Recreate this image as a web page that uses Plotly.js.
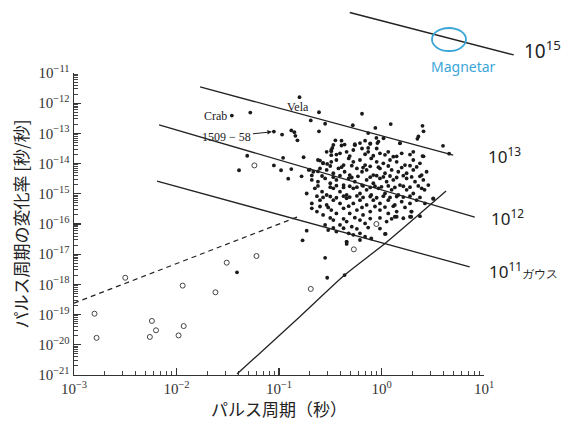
<!DOCTYPE html>
<html><head><meta charset="utf-8">
<script src="https://cdn.plot.ly/plotly-3.0.1.min.js"></script>
<style>html,body{margin:0;padding:0;background:#fff}#chart{width:568px;height:421px}</style>
</head><body><div id="chart"></div>
<script>
// ---- data (log10 values) ----
// ordinary pulsars: [log10 P (s), log10 dP/dt]
const normalPulsars = [
[-1.46,-12.41],[-1.28,-12.31],[-0.80,-11.80],[-1.05,-12.94],[-0.61,-12.30],[-0.69,-12.57],[-0.55,-12.68],[-0.61,-12.93],
[-0.97,-13.04],[-0.88,-12.90],[-0.85,-12.96],[-0.84,-13.08],[-0.82,-13.23],[-1.31,-13.74],[-1.39,-14.22],[-0.96,-13.81],
[-0.76,-13.79],[-1.05,-14.06],[-0.98,-14.22],[-0.88,-14.18],[-0.91,-14.50],[-0.78,-14.42],[-0.70,-14.20],[-0.68,-14.39],
[-0.62,-14.26],[-0.45,-13.23],[-0.48,-13.48],[-0.49,-13.59],[-0.60,-13.90],[-0.57,-13.98],[-0.53,-14.01],
[-0.19,-12.35],[-0.28,-12.73],[-0.06,-12.82],[0.09,-12.69],[0.40,-12.75],[0.41,-12.93],[0.36,-13.10],[0.35,-13.18],
[-0.13,-12.99],[-0.05,-13.15],[-0.16,-13.24],[-0.21,-13.32],[-0.11,-13.35],[-0.04,-13.32],[0.18,-13.32],[0.60,-13.41],
[0.66,-13.67],[0.41,-13.76],[-0.39,-13.24],[-0.36,-13.37],[-0.26,-13.39],[-0.13,-13.48],
[-0.47,-13.38],[-0.39,-13.40],[-0.26,-13.36],[-0.11,-13.33],[-0.03,-13.27],[0.02,-13.16],[0.18,-13.33],
[-0.535,-13.61],[-0.49,-13.55],[-0.405,-13.66],[-0.34,-13.61],[-0.275,-13.55],[-0.19,-13.50],[-0.13,-13.61],[-0.047,-13.50],
[-0.015,-13.66],[0.066,-13.61],[0.115,-13.77],[0.197,-13.66],[0.31,-13.61],[0.40,-13.75],[-0.49,-13.72],
[-0.62,-13.88],[-0.57,-13.99],[-0.49,-13.94],[-0.44,-13.88],[-0.37,-14.05],[-0.32,-13.83],[-0.275,-13.94],[-0.21,-13.88],
[-0.16,-14.05],[-0.10,-13.83],[-0.047,-13.94],[0.018,-13.99],[0.083,-13.88],[0.148,-13.94],[0.229,-14.05],[0.31,-13.88],[0.375,-13.99],
[-0.71,-14.21],[-0.665,-14.27],[-0.60,-14.16],[-0.535,-14.21],[-0.47,-14.32],[-0.42,-14.16],[-0.36,-14.27],[-0.31,-14.38],
[-0.24,-14.16],[-0.19,-14.27],[-0.145,-14.21],[-0.08,-14.38],[-0.015,-14.16],[0.034,-14.32],[0.099,-14.21],[0.164,-14.27],
[0.245,-14.32],[0.31,-14.21],[0.392,-14.38],[0.44,-14.27],
[-0.68,-14.54],[-0.62,-14.60],[-0.55,-14.49],[-0.50,-14.65],[-0.44,-14.54],[-0.37,-14.71],[-0.32,-14.49],[-0.26,-14.60],
[-0.19,-14.71],[-0.145,-14.54],[-0.08,-14.65],[-0.015,-14.49],[0.05,-14.60],[0.115,-14.54],[0.18,-14.71],[0.245,-14.49],
[0.327,-14.60],[0.408,-14.54],[0.457,-14.71],
[-0.73,-14.99],[-0.65,-14.82],[-0.58,-14.93],[-0.535,-15.04],[-0.47,-14.82],[-0.405,-14.93],[-0.34,-15.04],[-0.275,-14.82],
[-0.21,-14.99],[-0.145,-14.87],[-0.10,-15.04],[-0.03,-14.82],[0.034,-14.99],[0.099,-14.87],[0.164,-15.04],[0.245,-14.87],
[0.31,-14.99],[0.392,-14.82],[0.505,-15.15],
[-0.68,-15.32],[-0.60,-15.21],[-0.535,-15.37],[-0.47,-15.21],[-0.405,-15.32],[-0.34,-15.15],[-0.275,-15.32],[-0.21,-15.21],
[-0.145,-15.37],[-0.08,-15.21],[-0.015,-15.32],[0.066,-15.21],[0.13,-15.37],[0.197,-15.26],[0.278,-15.32],[0.343,-15.21],[0.424,-15.32],
[-0.68,-15.48],[-0.63,-15.59],[-0.57,-15.70],[-0.49,-15.54],[-0.44,-15.65],[-0.37,-15.48],[-0.31,-15.65],[-0.24,-15.54],
[-0.18,-15.70],[-0.11,-15.59],[-0.015,-15.54],[0.066,-15.65],[0.148,-15.59],[0.294,-15.59],[0.375,-15.74],
[-0.55,-16.03],[-0.47,-15.87],[-0.405,-16.03],[-0.34,-15.92],[-0.29,-16.09],[-0.21,-15.87],[-0.16,-15.98],[0.05,-15.92],
[0.148,-15.76],[0.278,-15.76],
[-0.52,-16.20],[-0.44,-16.25],[-0.37,-16.14],[-0.32,-16.31],[-0.275,-16.36],[-0.21,-16.31],[-0.16,-16.42],[-0.10,-16.48],
[0.034,-16.33],[-0.21,-16.53],[-0.34,-16.59],[-0.34,-16.66],
[-0.44,-13.70],[-0.31,-13.75],[-0.16,-13.69],[-0.08,-13.74],[0.034,-13.71],[0.148,-13.76],[0.278,-13.70],
[-0.50,-14.08],[-0.39,-14.12],[-0.29,-14.07],[-0.18,-14.13],[-0.11,-14.09],[-0.03,-14.12],[0.066,-14.08],[0.197,-14.13],
[0.278,-14.07],[0.343,-14.11],
[-0.58,-14.41],[-0.47,-14.45],[-0.405,-14.40],[-0.29,-14.46],[-0.23,-14.42],[-0.11,-14.45],[-0.047,-14.40],[0.018,-14.44],
[0.083,-14.41],[0.148,-14.46],[0.213,-14.40],[0.294,-14.44],[0.375,-14.42],
[-0.62,-14.74],[-0.50,-14.78],[-0.44,-14.73],[-0.37,-14.79],[-0.31,-14.75],[-0.24,-14.78],[-0.18,-14.74],[-0.11,-14.79],
[-0.064,-14.75],[0.0,-14.77],[0.066,-14.74],[0.13,-14.79],[0.213,-14.75],[0.278,-14.78],[0.359,-14.74],
[-0.63,-15.08],[-0.57,-15.12],[-0.50,-15.09],[-0.44,-15.13],[-0.37,-15.08],[-0.31,-15.11],[-0.24,-15.07],[-0.18,-15.12],
[-0.11,-15.09],[-0.047,-15.13],[0.018,-15.08],[0.083,-15.12],[0.148,-15.09],[0.213,-15.11],[0.278,-15.08],[0.375,-15.12],
[-0.60,-15.42],[-0.52,-15.45],[-0.32,-15.41],[-0.19,-15.45],[-0.064,-15.42],[0.034,-15.44],[0.115,-15.41],[0.229,-15.45],
[-0.50,-15.80],[-0.37,-15.83],[-0.26,-15.79],[-0.11,-15.82],[-0.015,-15.80],[0.099,-15.83],[0.213,-15.81],
[-0.47,-16.13],[-0.24,-16.16],[-0.13,-16.12],[-0.015,-16.15],
[-0.73,-16.22],[-0.77,-16.54],[-0.55,-17.12],[-1.41,-17.60],[-0.53,-17.78],[-0.36,-17.69],[0.04,-16.33],[-0.34,-16.59],
[0.42,-14.87],[0.505,-15.17],[0.29,-15.59],[0.29,-15.76],[0.13,-15.76]
];
// binary / millisecond pulsars (open circles)
const binaryPulsars = [
[-2.50,-17.78],[-2.80,-18.97],[-2.78,-19.77],[-2.24,-19.21],[-2.20,-19.52],[-2.26,-19.74],[-1.94,-18.04],[-1.93,-19.38],
[-1.98,-19.69],[-1.62,-18.26],[-1.51,-17.28],[-1.22,-17.06],[-1.24,-14.06],[-0.69,-18.15],[-0.27,-16.84],[-0.05,-16.00]
];
// labelled pulsars
const crab = [-1.46,-12.41];
const velaLabelPsr = [-0.80,-11.80];
const arrowPsr = [-1.05,-12.94];
// constant magnetic field lines (log10 P, log10 dP/dt)
const field15LogP = [-0.31, 1.29],  field15LogPdot = [-9.00, -10.40];
const field13LogP = [-1.77, 0.70],  field13LogPdot = [-11.46, -13.72];
const field12LogP = [-2.17, 0.91],  field12LogPdot = [-12.72, -15.77];
const field11LogP = [-2.19, 0.86],  field11LogPdot = [-14.58, -17.42];
// spin-up line (dashed) and death line
const spinupLogP = [-3.0, -0.80], spinupLogPdot = [-18.62, -15.74];
const deathLogP = [-1.41, -0.80, -0.36, 0.04, 0.63];
const deathLogPdot = [-20.97, -19.08, -17.69, -16.63, -14.91];
// axis decades
const xDecades = [-3, -2, -1, 0, 1];
const yDecades = [-21, -20, -19, -18, -17, -16, -15, -14, -13, -12, -11];

// ---- layout geometry ----
const W = 568, H = 421;
const X0 = 74, X1 = 484, YB = 375, YT = 73;
const xRange = [xDecades[0], xDecades[xDecades.length - 1]];
const yRange = [yDecades[0], yDecades[yDecades.length - 1]];
const pxX = (X1 - X0) / (xRange[1] - xRange[0]);
const pxY = (YB - YT) / (yRange[1] - yRange[0]);
const x2Range = [xRange[0] - X0 / pxX, xRange[1] + (W - X1) / pxX];
const y2Range = [yRange[0] - (H - YB) / pxY, yRange[1] + YT / pxY];
const p10 = v => Math.pow(10, v);
const px = x => x / W, py = y => 1 - y / H;
const sup = e => '10<sup>' + (e < 0 ? '\u2212' + (-e) : e) + '</sup>';
const minorVals = decs => {
  const out = [];
  decs.slice(0, -1).forEach(d => { for (let k = 2; k <= 9; k++) out.push(k * p10(d)); });
  return out;
};

const ink = '#222';
const traces = [
  {x: normalPulsars.map(d => p10(d[0])), y: normalPulsars.map(d => p10(d[1])), type: 'scatter', mode: 'markers',
   marker: {size: 3.8, color: '#1a1a1a'}, xaxis: 'x', yaxis: 'y', cliponaxis: false, hoverinfo: 'skip'},
  {x: binaryPulsars.map(d => p10(d[0])), y: binaryPulsars.map(d => p10(d[1])), type: 'scatter', mode: 'markers',
   marker: {size: 5, symbol: 'circle-open', color: '#444', line: {width: 1}}, xaxis: 'x', yaxis: 'y', cliponaxis: false, hoverinfo: 'skip'}
];
function lineTrace(lp, lpd, dash, w) {
  return {x: lp.map(p10), y: lpd.map(p10), type: 'scatter', mode: 'lines',
          line: {color: ink, width: w || 1.3, dash: dash || 'solid', shape: 'spline', smoothing: 0.6},
          xaxis: 'x2', yaxis: 'y2', hoverinfo: 'skip'};
}
traces.push(lineTrace(field15LogP, field15LogPdot, 'solid', 1.5));
traces.push(lineTrace(field13LogP, field13LogPdot));
traces.push(lineTrace(field12LogP, field12LogPdot));
traces.push(lineTrace(field11LogP, field11LogPdot));
traces.push(lineTrace(spinupLogP, spinupLogPdot, '5px,4px', 1.2));
traces.push(lineTrace(deathLogP, deathLogPdot));

const tickFont = {family: 'Liberation Serif, serif', size: 15, color: '#333'};
const titleFont = {family: 'Noto Sans CJK JP, sans-serif', size: 17, color: '#222'};
const handFont = {family: 'Noto Sans, sans-serif', size: 17, color: '#222'};
const labelFont = {family: 'Liberation Serif, serif', size: 12, color: '#222'};

const axisCommon = {
  type: 'log', tickmode: 'array', showgrid: false, zeroline: false,
  showline: true, linecolor: '#333', linewidth: 1.4, mirror: false,
  ticks: 'inside', ticklen: 7, tickwidth: 1.2, tickcolor: '#333', tickfont: tickFont
};

const layout = {
  width: W, height: H, margin: {l: 0, r: 0, t: 0, b: 0},
  paper_bgcolor: '#fff', plot_bgcolor: 'rgba(0,0,0,0)', showlegend: false, hovermode: false,
  xaxis: Object.assign({}, axisCommon, {range: xRange, domain: [px(X0), px(X1)], anchor: 'y',
    tickvals: xDecades.map(p10), ticktext: xDecades.map(sup),
    minor: {tickmode: 'array', tickvals: minorVals(xDecades), ticks: 'inside', ticklen: 4, tickwidth: 1, tickcolor: '#444', showgrid: false},
    title: {text: 'パルス周期（秒）', font: titleFont, standoff: 5}}),
  yaxis: Object.assign({}, axisCommon, {range: yRange, domain: [py(YB), py(YT)], anchor: 'x',
    tickvals: yDecades.map(p10), ticktext: yDecades.map(sup),
    minor: {tickmode: 'array', tickvals: minorVals(yDecades), ticks: 'inside', ticklen: 4, tickwidth: 1, tickcolor: '#444', showgrid: false},
    title: {text: 'パルス周期の変化率 [秒/秒]', font: titleFont, standoff: 5}}),
  xaxis2: {type: 'log', range: x2Range, domain: [0, 1], anchor: 'y2', visible: false},
  yaxis2: {type: 'log', range: y2Range, domain: [0, 1], anchor: 'x2', visible: false},
  annotations: [
    {xref: 'x', yref: 'y', x: crab[0], y: crab[1], text: 'Crab', showarrow: false, xanchor: 'right', xshift: -3, font: labelFont},
    {xref: 'x', yref: 'y', x: velaLabelPsr[0], y: velaLabelPsr[1], text: 'Vela', showarrow: false, xshift: -2, yshift: -10, font: labelFont},
    {xref: 'x', yref: 'y', x: arrowPsr[0], y: arrowPsr[1], text: '1509 − 58', showarrow: true, ax: -47, ay: 5,
     arrowhead: 2, arrowsize: 0.9, arrowwidth: 1, arrowcolor: ink, standoff: 2, font: labelFont},
    {xref: 'paper', yref: 'paper', x: px(522), y: py(50), xanchor: 'left', yanchor: 'middle', text: '10<sup>15</sup>', showarrow: false,
     font: Object.assign({}, handFont, {size: 19})},
    {xref: 'paper', yref: 'paper', x: px(486), y: py(155), xanchor: 'left', yanchor: 'middle', text: '10<sup>13</sup>', showarrow: false, font: handFont},
    {xref: 'paper', yref: 'paper', x: px(489), y: py(218), xanchor: 'left', yanchor: 'middle', text: '10<sup>12</sup>', showarrow: false, font: handFont},
    {xref: 'paper', yref: 'paper', x: px(487), y: py(270), xanchor: 'left', yanchor: 'middle',
     text: '10<sup>11</sup><span style="font-size:12px">ガウス</span>', showarrow: false, font: handFont},
    {xref: 'paper', yref: 'paper', x: px(463), y: py(67), xanchor: 'center', yanchor: 'middle', text: 'Magnetar', showarrow: false,
     font: {family: 'Noto Sans, sans-serif', size: 14, color: '#3aa6d8'}}
  ],
  shapes: [
    {type: 'circle', xref: 'paper', yref: 'paper', x0: px(432), x1: px(466), y0: py(51), y1: py(28),
     line: {color: '#3aa6d8', width: 1.8}}
  ]
};

Plotly.newPlot('chart', traces, layout, {displayModeBar: false, staticPlot: true});
</script>
</body></html>
